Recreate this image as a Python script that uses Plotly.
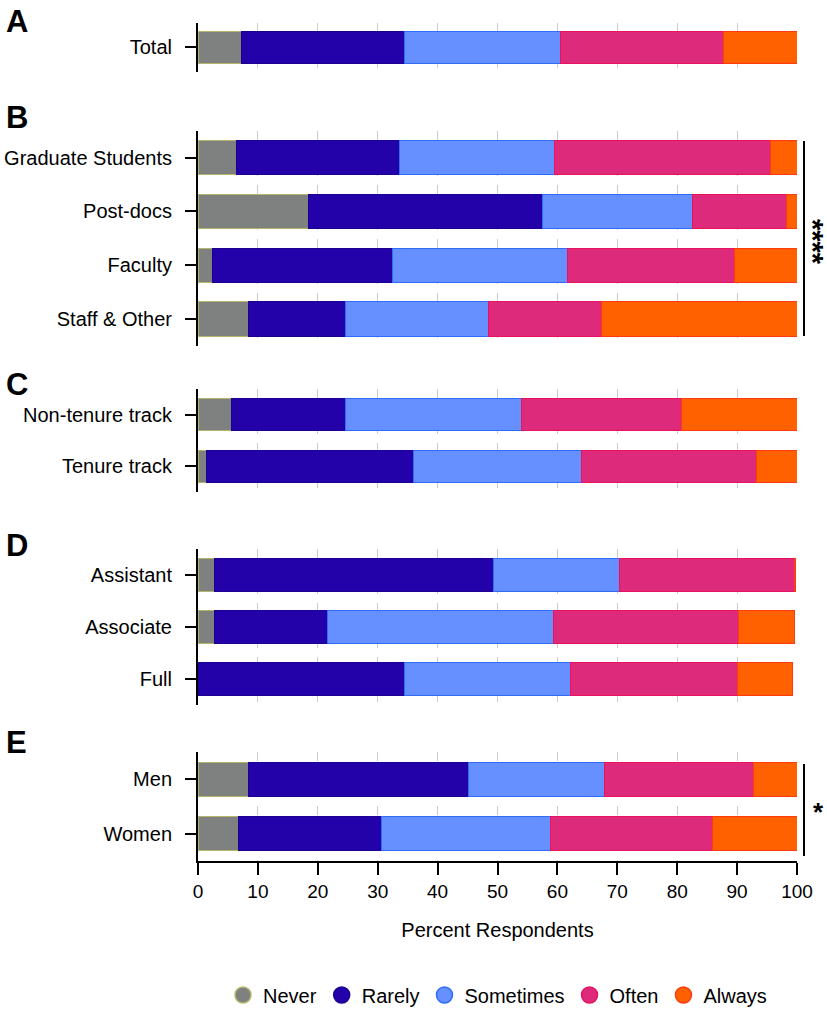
import plotly.graph_objects as go

# ---------------- data ----------------
responses = ["Never", "Rarely", "Sometimes", "Often", "Always"]

groups_A = ["Total"]
never_A = [7.3]
rarely_A = [27.1]
sometimes_A = [26.1]
often_A = [27.3]
always_A = [12.2]

groups_B = ["Graduate Students", "Post-docs", "Faculty", "Staff & Other"]
never_B = [6.5, 18.4, 2.5, 8.4]
rarely_B = [27.1, 39.1, 29.9, 16.2]
sometimes_B = [25.9, 25.1, 29.3, 23.9]
often_B = [36.0, 15.7, 27.8, 18.9]
always_B = [4.5, 1.7, 10.5, 32.6]

groups_C = ["Non-tenure track", "Tenure track"]
never_C = [5.6, 1.5]
rarely_C = [19.1, 34.4]
sometimes_C = [29.3, 28.2]
often_C = [26.8, 29.1]
always_C = [19.2, 6.8]

groups_D = ["Assistant", "Associate", "Full"]
never_D = [2.8, 2.8, 0.0]
rarely_D = [46.6, 18.8, 34.4]
sometimes_D = [21.0, 37.8, 27.8]
often_D = [29.1, 30.9, 27.9]
always_D = [0.2, 9.2, 9.2]

groups_E = ["Men", "Women"]
never_E = [8.5, 6.8]
rarely_E = [36.6, 23.9]
sometimes_E = [22.8, 28.2]
often_E = [24.9, 27.0]
always_E = [7.2, 14.1]

x_ticks = [0, 10, 20, 30, 40, 50, 60, 70, 80, 90, 100]
panel_letters = ["A", "B", "C", "D", "E"]
sig_B = "****"
sig_E = "*"

# ---------------- styles ----------------
fill_colors = ["#7f8181", "#2302aa", "#6690ff", "#dd2a7b", "#ff6000"]
line_colors = ["#b5b56a", "#1c0090", "#2f6bff", "#e8125e", "#ff3a10"]

W, H = 827, 1010
ML = 198
MR = W - 797
PW = W - ML - MR


def py(p):
    return 1 - p / H


def px(p):
    return (p - ML) / PW


panels = [
    (groups_A, [never_A, rarely_A, sometimes_A, often_A, always_A], (71.7, 22.7), 0.65),
    (groups_B, [never_B, rarely_B, sometimes_B, often_B, always_B], (346, 130.7), 0.64),
    (groups_C, [never_C, rarely_C, sometimes_C, often_C, always_C], (492, 389), 0.62),
    (groups_D, [never_D, rarely_D, sometimes_D, often_D, always_D], (705, 549), 0.65),
    (groups_E, [never_E, rarely_E, sometimes_E, often_E, always_E], (861, 752), 0.62),
]
letter_y = [21, 118, 384, 545, 742]

fig = go.Figure()
font_family = "Liberation Sans, Arial, sans-serif"

for i, (groups, series, (pb, pt), bw) in enumerate(panels):
    n = i + 1
    xa = "x" if n == 1 else f"x{n}"
    ya = "y" if n == 1 else f"y{n}"
    for j, name in enumerate(responses):
        fig.add_trace(go.Bar(
            y=groups, x=series[j], name=name, orientation="h",
            xaxis=xa, yaxis=ya, width=bw,
            marker=dict(color=fill_colors[j], line=dict(color=line_colors[j], width=1)),
            showlegend=False,
        ))
    last = (n == 5)
    xkey = "xaxis" if n == 1 else f"xaxis{n}"
    ykey = "yaxis" if n == 1 else f"yaxis{n}"
    fig.layout[xkey] = dict(
        domain=[0, 1], range=[0, 100], anchor=ya, automargin=False,
        tickvals=x_ticks, showgrid=True, gridcolor="#cccccc", gridwidth=1,
        griddash="dash", zeroline=False,
        showline=last, linecolor="black", linewidth=2,
        ticks="outside" if last else "", ticklen=12, tickwidth=2, tickcolor="black",
        showticklabels=last,
        tickfont=dict(size=19, color="black", family=font_family),
        title=dict(text="Percent Respondents" if last else "",
                   font=dict(size=20, color="black", family=font_family), standoff=22),
    )
    fig.layout[ykey] = dict(
        domain=[py(pb), py(pt)], anchor=xa, automargin=False,
        autorange="reversed", type="category",
        showline=True, linecolor="black", linewidth=2,
        ticks="outside", ticklen=11, tickwidth=2, tickcolor="black",
        ticklabelstandoff=9,
        tickfont=dict(size=20, color="black", family=font_family),
        showgrid=False, zeroline=False,
    )
    fig.add_annotation(
        text=f"<b>{panel_letters[i]}</b>", xref="paper", yref="paper",
        x=px(4), y=py(letter_y[i]), xanchor="left", yanchor="middle",
        showarrow=False, font=dict(size=31, color="black", family=font_family),
    )

# legend entries as circles
for j, name in enumerate(responses):
    fig.add_trace(go.Scatter(
        x=[None], y=[None], mode="markers", name=name,
        marker=dict(symbol="circle", size=22, color=fill_colors[j],
                    line=dict(color=line_colors[j], width=1.5)),
        showlegend=True,
    ))

# significance brackets
fig.add_shape(type="line", xref="paper", yref="paper",
              x0=px(804), x1=px(804), y0=py(141), y1=py(336),
              line=dict(color="black", width=2))
fig.add_annotation(text=f"<b>{sig_B}</b>", xref="paper", yref="paper",
                   x=px(813), y=py(242), textangle=90, showarrow=False,
                   xanchor="center", yanchor="middle",
                   font=dict(size=29, color="black", family=font_family))
fig.add_shape(type="line", xref="paper", yref="paper",
              x0=px(804), x1=px(804), y0=py(764), y1=py(856),
              line=dict(color="black", width=2))
fig.add_annotation(text=f"<b>{sig_E}</b>", xref="paper", yref="paper",
                   x=px(818), y=py(812), showarrow=False,
                   xanchor="center", yanchor="middle",
                   font=dict(size=26, color="black", family=font_family))

fig.update_layout(
    width=W, height=H, barmode="stack",
    margin=dict(l=ML, r=MR, t=0, b=0, autoexpand=False),
    plot_bgcolor="white", paper_bgcolor="white",
    font=dict(family=font_family, color="black"),
    legend=dict(orientation="h", x=0.5, xanchor="center", y=py(995), yanchor="middle",
                traceorder="normal",
                font=dict(size=20, color="black", family=font_family),
                itemwidth=30, tracegroupgap=0),
)

fig.write_html(
    "out.html",
    config={"displayModeBar": False},
    post_script="document.body.style.margin='0';document.body.style.overflow='hidden';",
)
